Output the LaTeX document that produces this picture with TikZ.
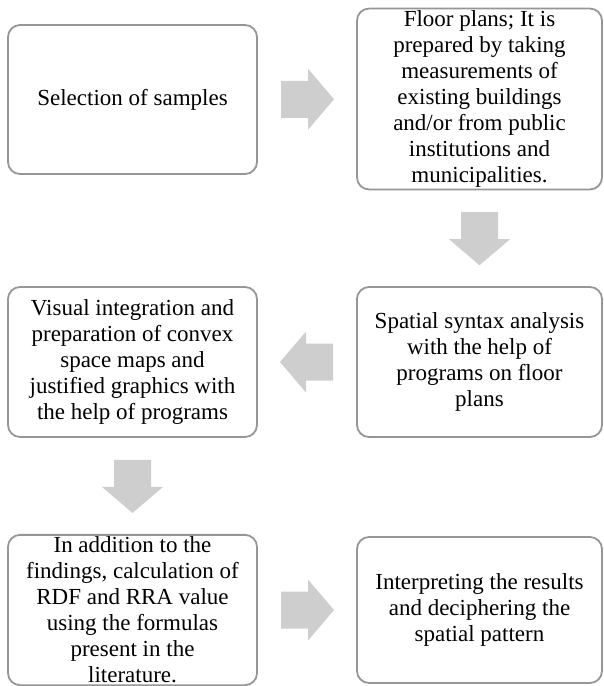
\documentclass[tikz,border=0pt]{standalone}
\usepackage{fontspec}
\setmainfont{Liberation Serif}
\usepackage{tikz}
\usetikzlibrary{calc}
\definecolor{boxline}{RGB}{150,150,150}
\definecolor{arrfill}{RGB}{206,206,206}
\tikzset{stepbox/.style={draw=boxline, line width=1.8pt, rounded corners=12pt, fill=white,
    align=center, inner sep=2pt, font=\fontsize{23}{26}\selectfont}}
% block arrow: centre, rotation
\newcommand{\blockarr}[2]{\fill[arrfill, shift={#1}, rotate=#2] (-26,-18.5) -- (1,-18.5) -- (1,-30.5) -- (27,0) -- (1,30.5) -- (1,18.5) -- (-26,18.5) -- cycle;}

\begin{document}
\begin{tikzpicture}[x=1pt, y=-1pt]
        \useasboundingbox (0,0) rectangle (603,686);
        % row 1
        \node[stepbox, minimum width=249pt, minimum height=149pt] (sel) at (132.5,99.5) {Selection of samples};
        \node[stepbox, minimum width=245pt, minimum height=180pt] (plans) at (479.5,99) {Floor plans; It is\\prepared by taking\\measurements of\\existing buildings\\and/or from public\\institutions and\\municipalities.};
        % row 2
        \node[stepbox, minimum width=249pt, minimum height=150pt] (visual) at (132.5,362) {Visual integration and\\preparation of convex\\space maps and\\justified graphics with\\the help of programs};
        \node[stepbox, minimum width=245pt, minimum height=150pt] (syntax) at (479.5,362) {Spatial syntax analysis\\with the help of\\programs on floor\\plans};
        % row 3
        \node[stepbox, minimum width=249pt, minimum height=146pt] (calc) at (132.5,610) {In addition to the\\findings, calculation of\\RDF and RRA value\\using the formulas\\present in the\\literature.};
        \node[stepbox, minimum width=245pt, minimum height=146pt] (interp) at (479.5,610) {Interpreting the results\\and deciphering the\\spatial pattern};
        % arrows
        \blockarr{($(sel.east)!0.5!(plans.west)$)}{0}
        \blockarr{($(plans.south)!0.5!(syntax.north)$)}{-90}
        \blockarr{($(syntax.west)!0.5!(visual.east)$)}{180}
        \blockarr{($(visual.south)!0.5!(calc.north)$)}{-90}
        \blockarr{($(calc.east)!0.5!(interp.west)$)}{0}
\end{tikzpicture}
\end{document}
